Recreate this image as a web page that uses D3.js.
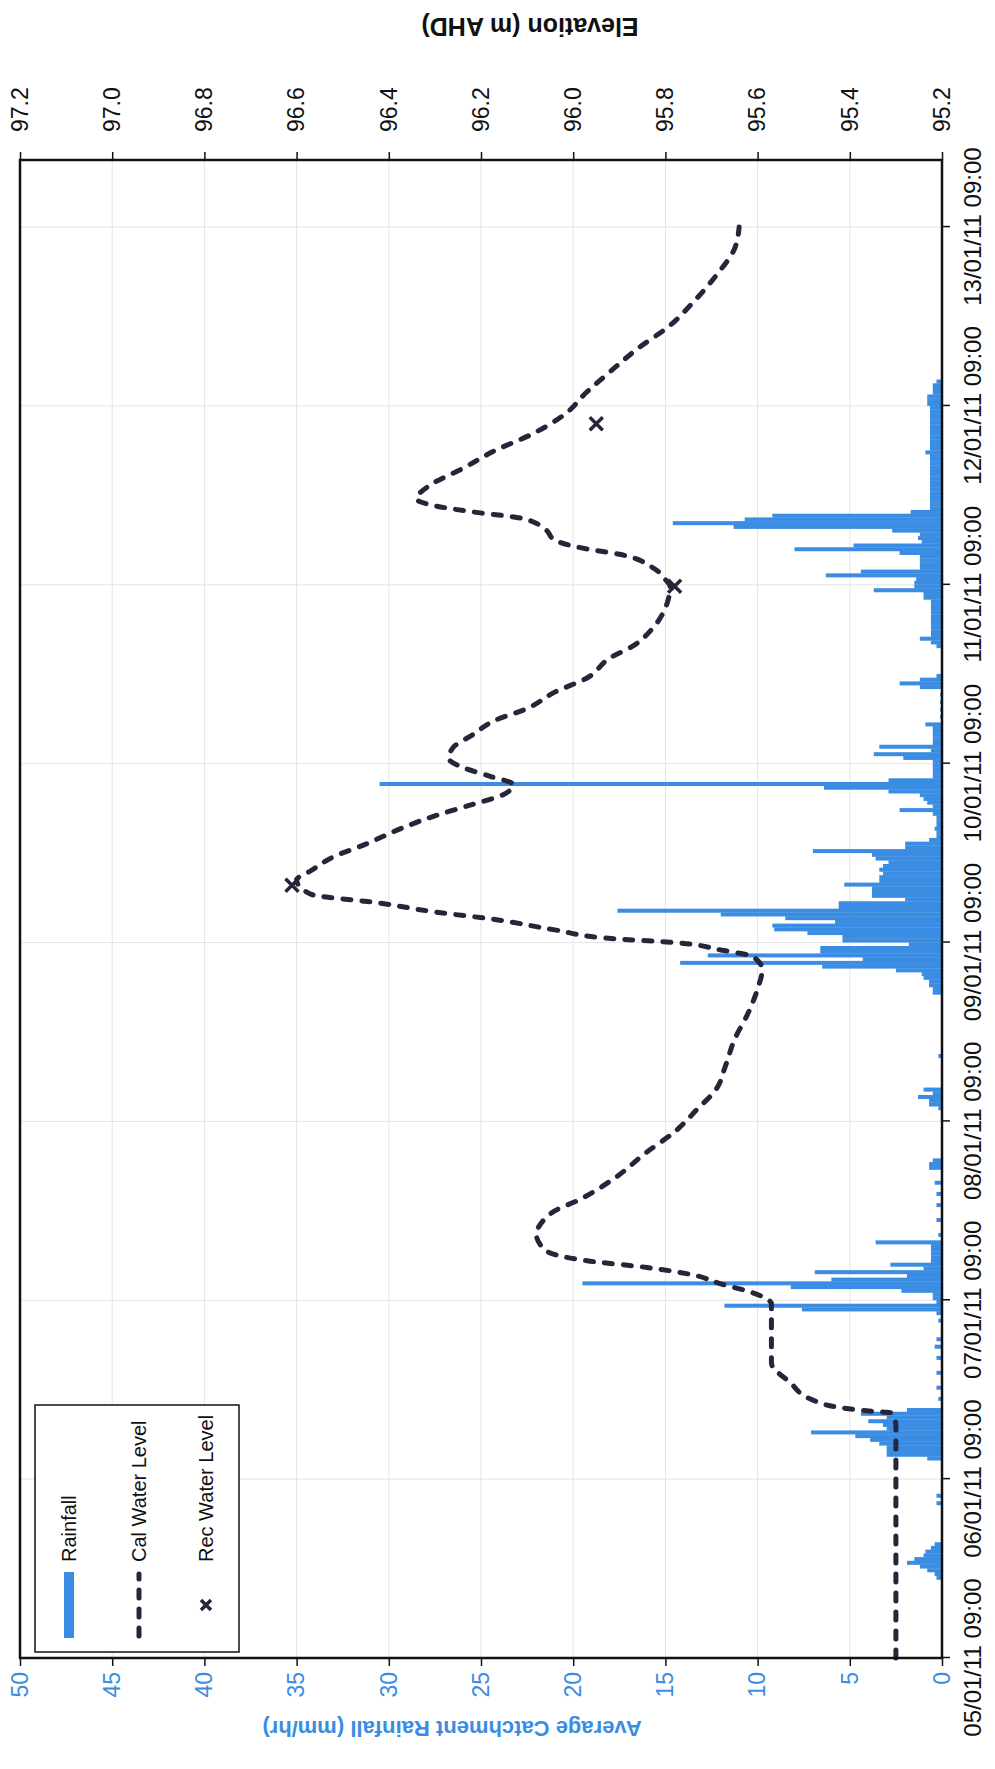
<!DOCTYPE html>
<html>
<head>
<meta charset="utf-8">
<script src="https://cdn.jsdelivr.net/npm/d3@7"></script>
<style>
  body { margin: 0; background: #fff; }
  svg text { font-family: "Liberation Sans", Arial, sans-serif; }
</style>
</head>
<body>
<div class="chart"></div>
<script>
// page is portrait, the chart itself is landscape and turned a quarter turn
var pageW = 995, pageH = 1769;
var plotL = 111, plotR = 1609, plotT = 20, plotB = 942;

var rainColor = '#3a8de2';
var lineColor = '#25263a';

var startLabel = "05/01/11 09:00";
var endLabel = "13/01/11 18:00";
var tickLabels = ["05/01/11 09:00", "06/01/11 09:00", "07/01/11 09:00", "08/01/11 09:00",
                  "09/01/11 09:00", "10/01/11 09:00", "11/01/11 09:00", "12/01/11 09:00",
                  "13/01/11 09:00"];
var rainTicks = [0, 5, 10, 15, 20, 25, 30, 35, 40, 45, 50];
var levelTicks = [95.2, 95.4, 95.6, 95.8, 96.0, 96.2, 96.4, 96.6, 96.8, 97.0, 97.2];

// rainfall: start of each 30 min interval (hours after 05/01/11 09:00) and mm/hr
var rainHour = [10.5, 11, 11.5, 12, 12.5, 13, 13.5, 14, 14.5, 15, 20.5, 21.5,
  26.5, 27, 27.5, 28, 28.5, 29, 29.5, 30, 30.5, 31, 31.5, 32, 32.5, 33,
  34.5, 36, 38, 40, 41.5, 42.5, 45, 46, 46.5, 47, 47.5, 48, 48.5, 49, 49.5, 50,
  50.5, 51, 51.5, 52, 52.5, 53, 53.5, 54, 54.5, 55, 55.5, 56.5, 58.5, 60.5, 62,
  63.5, 65.5, 66, 66.5, 73.5, 74, 74.5, 75, 75.5, 76, 80.5,
  89, 89.5, 90, 90.5, 91, 91.5, 92, 92.5, 93, 93.5, 94, 94.5, 95, 95.5, 96, 96.5,
  97, 97.5, 98, 98.5, 99, 99.5, 100, 100.5, 101, 101.5, 102, 102.5, 103, 103.5,
  104, 104.5, 105, 105.5, 106, 106.5, 107, 107.5, 108, 108.5, 109, 109.5, 110,
  110.5, 111, 111.5, 112, 112.5, 113, 113.5, 114, 114.5, 115, 115.5, 116, 116.5,
  117, 117.5, 118, 118.5, 119, 119.5, 120, 120.5, 121, 121.5, 122, 122.5, 123,
  123.5, 124, 124.5, 125, 126, 127, 128, 129, 130, 130.5, 131, 131.5,
  135.5, 136, 136.5, 137, 137.5, 138, 138.5, 139, 139.5, 140, 140.5, 141, 141.5,
  142, 142.5, 143, 143.5, 144, 144.5, 145, 145.5, 146, 146.5, 147, 147.5, 148,
  148.5, 149, 149.5, 150, 150.5, 151, 151.5, 152, 152.5, 153, 153.5,
  154, 154.5, 155, 155.5, 156, 156.5, 157, 157.5, 158, 158.5, 159, 159.5, 160,
  160.5, 161, 161.5, 162, 162.5, 163, 163.5, 164, 164.5, 165, 165.5, 166, 166.5,
  167, 167.5, 168, 168.5, 169, 169.5, 170, 170.5, 171];
var rainValue = [0.3, 0.4, 0.8, 1.2, 1.9, 1.5, 1.0, 0.9, 0.6, 0.4, 0.3, 0.3,
  0.8, 3.0, 3.0, 3.0, 3.4, 3.9, 4.7, 7.1, 3.0, 3.2, 4.0, 3.0, 4.4, 1.9,
  0.2, 0.3, 0.3, 0.3, 0.4, 0.3, 0.2, 0.3, 7.6, 11.8, 0.3, 0.5, 0.5, 2.2, 8.2, 19.5,
  6.0, 1.9, 6.9, 1.0, 2.8, 0.6, 0.6, 0.6, 0.6, 0.6, 3.6, 0.2, 0.3, 0.3, 0.3,
  0.4, 0.7, 0.7, 0.5, 0.2, 0.7, 0.7, 1.3, 0.5, 1.0, 0.2,
  0.5, 0.5, 0.7, 0.7, 1.0, 1.1, 2.5, 6.5, 14.2, 4.3, 12.7, 6.6, 6.6, 1.8, 5.4, 5.4,
  7.3, 9.1, 9.2, 5.8, 8.5, 12.0, 17.6, 5.6, 5.6, 2.0, 3.8, 3.8, 3.8, 5.3,
  3.4, 3.4, 3.2, 3.4, 3.2, 2.9, 3.6, 3.8, 7.0, 2.0, 2.0, 0.7, 0.3,
  0.3, 0.4, 0.3, 0.3, 0.3, 0.5, 2.3, 0.5, 0.8, 1.0, 1.2, 2.9, 6.4,
  30.5, 2.9, 0.5, 0.5, 0.5, 0.5, 0.5, 2.1, 3.7, 0.6, 3.4, 0.5, 0.5,
  0.5, 0.5, 0.5, 0.9, 0.1, 0.1, 0.1, 0.1, 1.2, 2.3, 1.2, 0.3,
  0.3, 0.6, 1.2, 0.6, 0.6, 0.6, 0.6, 0.6, 0.6, 0.6, 0.6, 0.6, 0.6,
  1.0, 1.0, 3.7, 1.5, 1.5, 1.4, 6.3, 4.4, 1.2, 1.2, 1.2, 1.2, 2.3,
  8.0, 4.8, 1.1, 1.3, 1.2, 2.7, 11.3, 14.6, 10.7, 9.2, 1.7,
  0.65, 0.65, 0.65, 0.65, 0.65, 0.65, 0.65, 0.65, 0.65, 0.65, 0.65, 0.65, 0.65,
  0.65, 0.65, 0.9, 0.65, 0.65, 0.65, 0.65, 0.65, 0.65, 0.65, 0.65, 0.65, 0.65,
  0.65, 0.65, 0.8, 0.8, 0.8, 0.5, 0.5, 0.5, 0.3];

// calibrated water level (hours after start, m AHD)
var calHour = [0, 31.2, 32.9, 33.1, 33.6, 34.6, 37.0, 39.6, 43.2, 45.8, 47.5, 49.0,
  50.2, 51.4, 52.4, 53.3, 54.7, 56.9, 58.3, 60.0, 61.4, 64.4, 67.9, 70.6, 73.7,
  76.3, 79.4, 83.0, 86.6, 89.8, 92.4, 94.1, 95.0, 96.0, 96.5, 97.7, 99.1, 100.1,
  101.3, 102.5, 104.4, 105.6, 107.5, 109.2, 111.4, 113.0, 114.5, 115.9, 117.2,
  118.3, 119.5, 120.7, 122.2, 123.8, 125.8, 127.4, 129.6, 131.5, 134.2, 135.8,
  138.0, 140.9, 143.8, 144.7, 146.4, 148.1, 148.8, 150.0, 151.4, 152.9, 153.8,
  154.6, 155.5, 157.4, 159.6, 162.0, 164.2, 166.8, 169.9, 172.6, 175.7, 178.8,
  181.9, 185.5, 189.1, 192.0];
var calLevel = [95.30, 95.30, 95.31, 95.35, 95.42, 95.48, 95.53, 95.57, 95.57, 95.57,
  95.57, 95.61, 95.68, 95.74, 95.84, 95.97, 96.06, 96.08, 96.07, 96.04, 95.99,
  95.91, 95.84, 95.78, 95.73, 95.69, 95.67, 95.65, 95.62, 95.60, 95.59, 95.61,
  95.68, 95.78, 95.91, 96.04, 96.17, 96.30, 96.42, 96.57, 96.60, 96.57, 96.52,
  96.45, 96.37, 96.30, 96.22, 96.15, 96.13, 96.18, 96.24, 96.27, 96.26, 96.22,
  96.17, 96.10, 96.04, 95.97, 95.92, 95.87, 95.83, 95.80, 95.79, 95.80, 95.83,
  95.90, 95.97, 96.04, 96.06, 96.11, 96.22, 96.30, 96.34, 96.31, 96.24, 96.17,
  96.09, 96.02, 95.97, 95.92, 95.86, 95.79, 95.74, 95.69, 95.65, 95.64];

// recorded levels
var recHour = [103.7, 143.8, 165.6];
var recLevel = [96.61, 95.78, 95.95];

var parseTime = d3.timeParse("%d/%m/%y %H:%M");
var t0 = parseTime(startLabel);
function hourToDate(h) { return new Date(t0.getTime() + h * 3600000); }

var xScale = d3.scaleTime()
               .domain([t0, parseTime(endLabel)])
               .range([plotL, plotR]);
var rainScale = d3.scaleLinear().domain([0, 50]).range([plotB, plotT]);
var levelScale = d3.scaleLinear().domain([95.2, 97.2]).range([plotB, plotT]);

var svg = d3.select(".chart")
            .append("svg")
            .attr("width", pageW)
            .attr("height", pageH);
svg.append("rect").attr("width", pageW).attr("height", pageH).attr("fill", "#fff");

var g = svg.append("g")
           .attr("transform", "translate(0," + pageH + ") rotate(-90)");

// gridlines
g.selectAll("line.hgrid")
 .data(rainTicks.slice(1, -1))
 .enter().append("line")
 .attr("x1", plotL).attr("x2", plotR)
 .attr("y1", d => rainScale(d)).attr("y2", d => rainScale(d))
 .attr("stroke", "#e4e4e4").attr("stroke-width", 1);
g.selectAll("line.vgrid")
 .data(tickLabels.slice(1))
 .enter().append("line")
 .attr("x1", d => xScale(parseTime(d))).attr("x2", d => xScale(parseTime(d)))
 .attr("y1", plotT).attr("y2", plotB)
 .attr("stroke", "#e4e4e4").attr("stroke-width", 1);

// rainfall bars
var rain = rainHour.map((h, i) => ({h: h, v: rainValue[i]}));
g.selectAll("rect.bar")
 .data(rain)
 .enter().append("rect")
 .attr("class", "bar")
 .attr("x", d => xScale(hourToDate(d.h)))
 .attr("width", d => xScale(hourToDate(d.h + 0.5)) - xScale(hourToDate(d.h)) + 0.3)
 .attr("y", d => rainScale(d.v))
 .attr("height", d => plotB - rainScale(d.v))
 .attr("fill", rainColor);

// calibrated level line
var cal = calHour.map((h, i) => ({h: h, v: calLevel[i]}));
var line = d3.line()
             .x(d => xScale(hourToDate(d.h)))
             .y(d => levelScale(d.v))
             .curve(d3.curveMonotoneX);
g.append("path")
 .datum(cal)
 .attr("d", line)
 .attr("fill", "none")
 .attr("stroke", lineColor)
 .attr("stroke-width", 5)
 .attr("stroke-dasharray", "8,11")
 .attr("stroke-linecap", "round");

// recorded level markers
function xMark(cx, cy, r) {
  return "M" + (cx - r) + "," + (cy - r) + "L" + (cx + r) + "," + (cy + r) +
         "M" + (cx - r) + "," + (cy + r) + "L" + (cx + r) + "," + (cy - r);
}
g.selectAll("path.rec")
 .data(recHour.map((h, i) => ({h: h, v: recLevel[i]})))
 .enter().append("path")
 .attr("d", d => xMark(xScale(hourToDate(d.h)), levelScale(d.v), 6.5))
 .attr("stroke", lineColor)
 .attr("stroke-width", 3.5)
 .attr("fill", "none");

// frame
g.append("rect")
 .attr("x", plotL).attr("y", plotT)
 .attr("width", plotR - plotL).attr("height", plotB - plotT)
 .attr("fill", "none").attr("stroke", "#111").attr("stroke-width", 2.5);

// axes
var xAxis = d3.axisBottom(xScale)
              .tickValues(tickLabels.map(parseTime))
              .tickFormat(d3.timeFormat("%d/%m/%y %H:%M"))
              .tickSize(8).tickPadding(14);
var rainAxis = d3.axisLeft(rainScale).tickValues(rainTicks).tickSize(8).tickPadding(6);
var levelAxis = d3.axisRight(levelScale)
                  .tickValues(levelTicks)
                  .tickFormat(d3.format(".1f"))
                  .tickSize(8).tickPadding(20);

var gx = g.append("g").attr("transform", "translate(0," + plotB + ")").call(xAxis);
gx.selectAll("text").attr("font-size", 24).attr("fill", "#111");

var gr = g.append("g").attr("transform", "translate(" + plotL + ",0)").call(rainAxis);
gr.selectAll("text").attr("font-size", 23).attr("fill", rainColor);

var gl = g.append("g").attr("transform", "translate(" + plotR + ",0)").call(levelAxis);
gl.selectAll("text").attr("font-size", 23).attr("fill", "#111");

[gx, gr, gl].forEach(a => {
  a.select(".domain").remove();
  a.selectAll("line").attr("stroke", "#111").attr("stroke-width", 1.5);
  a.attr("font-family", null);
});

// axis titles
g.append("text")
 .attr("transform", "translate(41,452) rotate(-90)")
 .attr("text-anchor", "middle")
 .attr("dominant-baseline", "central")
 .attr("font-size", 22)
 .attr("font-weight", "bold")
 .attr("fill", rainColor)
 .text("Average Catchment Rainfall (mm/hr)");
g.append("text")
 .attr("transform", "translate(1742,530) rotate(-90)")
 .attr("text-anchor", "middle")
 .attr("dominant-baseline", "central")
 .attr("font-size", 25)
 .attr("font-weight", "bold")
 .attr("fill", "#111")
 .text("Elevation (m AHD)");

// legend
var lg = g.append("g");
lg.append("rect")
  .attr("x", 117).attr("y", 35).attr("width", 247).attr("height", 204)
  .attr("fill", "#fff").attr("stroke", "#111").attr("stroke-width", 1.5);
lg.append("rect")
  .attr("x", 131).attr("y", 64).attr("width", 66).attr("height", 10)
  .attr("fill", rainColor);
lg.append("line")
  .attr("x1", 133).attr("x2", 195).attr("y1", 139).attr("y2", 139)
  .attr("stroke", lineColor).attr("stroke-width", 5)
  .attr("stroke-dasharray", "8,11").attr("stroke-linecap", "round");
lg.append("path")
  .attr("d", xMark(164, 206, 5))
  .attr("stroke", lineColor).attr("stroke-width", 3.5).attr("fill", "none");
var legendText = ["Rainfall", "Cal Water Level", "Rec Water Level"];
var legendY = [69, 139, 206];
lg.selectAll("text.leg")
  .data(legendText)
  .enter().append("text")
  .attr("x", 207)
  .attr("y", (d, i) => legendY[i])
  .attr("dominant-baseline", "central")
  .attr("font-size", 20)
  .attr("fill", "#111")
  .text(d => d);
</script>
</body>
</html>
